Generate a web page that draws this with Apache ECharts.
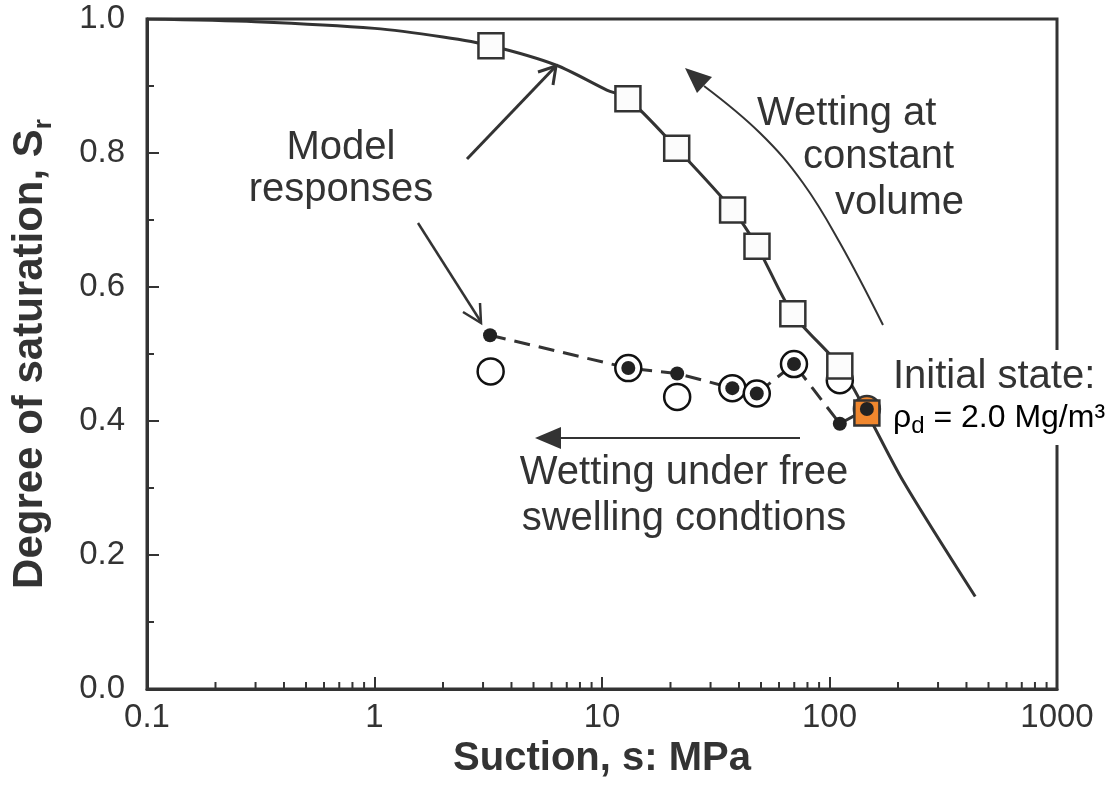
<!DOCTYPE html>
<html style="height: 100%">
<head>
    <meta charset="utf-8">
</head>
<body style="height: 100%; margin: 0; background: #fff">
<div id="container" style="width: 1114px; height: 785px"></div>
<script type="text/javascript" src="https://cdn.jsdelivr.net/npm/echarts@6/dist/echarts.min.js"></script>
<script type="text/javascript">
// axis ticks
var xTicks = [0.1, 1, 10, 100, 1000];
var yTicks = [0, 0.2, 0.4, 0.6, 0.8, 1.0];

// model response, wetting at constant volume (solid curve)
var cvModelS  = [0.1, 0.3, 1, 2, 3.25, 6.3, 10.5, 13, 21.3, 37.5, 48, 69, 111, 146, 211, 437];
var cvModelSr = [1.0, 0.996, 0.986, 0.973, 0.96, 0.931, 0.894, 0.881, 0.807, 0.715, 0.661, 0.56, 0.482, 0.412, 0.31, 0.138];

// tests at constant volume (open squares)
var cvTestS  = [3.25, 13, 21.3, 37.5, 48, 69, 111];
var cvTestSr = [0.96, 0.881, 0.807, 0.715, 0.661, 0.56, 0.482];

// tests under free swelling (open circles)
var fsTestS  = [3.24, 13.05, 21.4, 37.4, 47.9, 69.8, 111];
var fsTestSr = [0.474, 0.479, 0.436, 0.449, 0.441, 0.485, 0.461];

// model response, free swelling (dots + dashed line)
var fsModelS  = [3.22, 13.05, 21.4, 37.4, 47.9, 69.8, 111, 146];
var fsModelSr = [0.528, 0.479, 0.471, 0.449, 0.441, 0.485, 0.396, 0.418];

// initial state
var initS = [146];
var initSrSquare = [0.412];
var initSrCircle = [0.418];

var ink = '#333';
var orange = '#f0872e';
var font40 = '40px "Liberation Sans", Arial, sans-serif';

function zip(xs, ys) {
    var res = [];
    for (var i = 0; i < xs.length; i++) res.push([xs[i], ys[i]]);
    return res;
}

// minor ticks for the log axis (2..9 in each decade)
var minorX = [];
for (var i = 0; i < xTicks.length - 1; i++) {
    for (var k = 2; k <= 9; k++) minorX.push(xTicks[i] * k);
}

var dom = document.getElementById('container');
var myChart = echarts.init(dom, null, {renderer: 'canvas'});

var option = {
    animation: false,
    backgroundColor: '#fff',
    textStyle: {fontFamily: 'Liberation Sans, Arial, sans-serif'},
    grid: {
        left: 147, right: 57, top: 19, bottom: 96,
        show: true, borderColor: ink, borderWidth: 3, backgroundColor: 'transparent'
    },
    xAxis: {
        type: 'log',
        logBase: 10,
        min: xTicks[0],
        max: xTicks[xTicks.length - 1],
        name: 'Suction, s: MPa',
        nameLocation: 'middle',
        nameGap: 47,
        nameTextStyle: {fontSize: 40, fontWeight: 'bold', color: ink},
        axisLine: {lineStyle: {color: ink, width: 3}},
        axisTick: {inside: true, length: 12, lineStyle: {color: ink, width: 2}},
        axisLabel: {
            fontSize: 33, color: ink, margin: 12,
            formatter: function (v) { return v < 1 ? v.toFixed(1) : String(Math.round(v)); }
        },
        splitLine: {show: false}
    },
    yAxis: {
        type: 'value',
        min: yTicks[0],
        max: yTicks[yTicks.length - 1],
        interval: 0.2,
        name: '{a|Degree of saturation, S}{b|r}',
        nameLocation: 'middle',
        nameGap: 90,
        nameTextStyle: {
            color: ink,
            rich: {
                a: {fontSize: 42, fontWeight: 'bold', color: ink, lineHeight: 54},
                b: {fontSize: 26, fontWeight: 'bold', color: ink, lineHeight: 20, verticalAlign: 'bottom'}
            }
        },
        axisLine: {lineStyle: {color: ink, width: 3}},
        axisTick: {inside: true, length: 12, lineStyle: {color: ink, width: 2}},
        minorTick: {show: true, splitNumber: 2, length: 7, lineStyle: {color: ink, width: 2}},
        axisLabel: {
            fontSize: 33, color: ink, margin: 22,
            formatter: function (v) { return v.toFixed(1); }
        },
        splitLine: {show: false}
    },
    series: [
        {
            name: 'minor ticks',
            type: 'custom',
            silent: true,
            z: 10,
            data: minorX.map(function (v) { return [v, 0]; }),
            renderItem: function (params, api) {
                var p = api.coord([api.value(0), api.value(1)]);
                return {
                    type: 'line',
                    shape: {x1: p[0], y1: p[1], x2: p[0], y2: p[1] - 7},
                    style: {stroke: ink, lineWidth: 2}
                };
            }
        },
        {
            name: 'Model, constant volume',
            type: 'line',
            data: zip(cvModelS, cvModelSr),
            showSymbol: false,
            smooth: 0.3,
            lineStyle: {color: ink, width: 3},
            z: 2
        },
        {
            name: 'Model, free swelling',
            type: 'line',
            data: zip(fsModelS, fsModelSr),
            showSymbol: false,
            lineStyle: {color: ink, width: 3, type: [16, 9]},
            z: 2
        },
        {
            name: 'Test, free swelling',
            type: 'scatter',
            data: zip(fsTestS, fsTestSr),
            symbol: 'circle',
            symbolSize: 26,
            itemStyle: {color: '#fff', borderColor: '#111', borderWidth: 2.5, opacity: 1},
            z: 3
        },
        {
            name: 'Initial circle',
            type: 'scatter',
            data: zip(initS, initSrCircle),
            symbol: 'circle',
            symbolSize: 26,
            itemStyle: {color: orange, borderColor: ink, borderWidth: 2.5, opacity: 1},
            z: 3
        },
        {
            name: 'Test, constant volume',
            type: 'scatter',
            data: zip(cvTestS, cvTestSr),
            symbol: 'rect',
            symbolSize: 25,
            itemStyle: {color: '#fcfcfc', borderColor: ink, borderWidth: 2.5, opacity: 1},
            z: 4
        },
        {
            name: 'Initial square',
            type: 'scatter',
            data: zip(initS, initSrSquare),
            symbol: 'rect',
            symbolSize: 25,
            itemStyle: {color: orange, borderColor: ink, borderWidth: 2.5, opacity: 1},
            z: 4
        },
        {
            name: 'Model points',
            type: 'scatter',
            data: zip(fsModelS, fsModelSr),
            symbol: 'circle',
            symbolSize: 14,
            itemStyle: {color: '#222', opacity: 1},
            z: 5
        }
    ],
    graphic: [
        // white box behind the initial state note
        {type: 'rect', z: 100, shape: {x: 886, y: 350, width: 228, height: 95}, style: {fill: '#fff'}},
        {type: 'text', z: 101, x: 893, y: 377, style: {text: 'Initial state:', font: font40, fill: ink, verticalAlign: 'middle'}},
        {type: 'text', z: 101, x: 893, y: 418, style: {
            text: '{r|ρ}{d|d}{r| = 2.0 Mg/m³}',
            verticalAlign: 'middle',
            rich: {
                r: {fontSize: 32, fontFamily: 'Liberation Sans', color: ink, lineHeight: 40},
                d: {fontSize: 24, fontFamily: 'Liberation Sans', color: ink, lineHeight: 14, verticalAlign: 'bottom'}
            }
        }},
        // model responses note
        {type: 'text', z: 50, x: 341, y: 148, style: {text: 'Model', font: font40, fill: ink, align: 'center', verticalAlign: 'middle'}},
        {type: 'text', z: 50, x: 341, y: 190, style: {text: 'responses', font: font40, fill: ink, align: 'center', verticalAlign: 'middle'}},
        {type: 'line', z: 50, shape: {x1: 467, y1: 159, x2: 556, y2: 66}, style: {stroke: ink, lineWidth: 3}},
        {type: 'polyline', z: 50, shape: {points: [[538, 72], [556, 66], [553, 85]]}, style: {stroke: ink, lineWidth: 3, fill: null}},
        {type: 'line', z: 50, shape: {x1: 418, y1: 223, x2: 481, y2: 322}, style: {stroke: ink, lineWidth: 2.5}},
        {type: 'polyline', z: 50, shape: {points: [[463, 312], [481, 323], [480, 303]]}, style: {stroke: ink, lineWidth: 2.5, fill: null}},
        // wetting at constant volume note
        {type: 'text', z: 50, x: 757, y: 114, style: {text: 'Wetting at', font: font40, fill: ink, verticalAlign: 'middle'}},
        {type: 'text', z: 50, x: 803, y: 157, style: {text: 'constant', font: font40, fill: ink, verticalAlign: 'middle'}},
        {type: 'text', z: 50, x: 835, y: 203, style: {text: 'volume', font: font40, fill: ink, verticalAlign: 'middle'}},
        {type: 'polyline', z: 50, shape: {points: [[883, 325], [840, 243], [803, 183], [760, 133], [704, 86]], smooth: 0.4}, style: {stroke: ink, lineWidth: 2, fill: null}},
        {type: 'polygon', z: 50, shape: {points: [[685, 68], [712, 77], [697, 93]]}, style: {fill: ink}},
        // wetting under free swelling note
        {type: 'line', z: 50, shape: {x1: 800, y1: 438, x2: 556, y2: 438}, style: {stroke: ink, lineWidth: 2}},
        {type: 'polygon', z: 50, shape: {points: [[535, 438], [561, 427], [561, 449]]}, style: {fill: ink}},
        {type: 'text', z: 50, x: 684, y: 473, style: {text: 'Wetting under free', font: font40, fill: ink, align: 'center', verticalAlign: 'middle'}},
        {type: 'text', z: 50, x: 684, y: 519, style: {text: 'swelling condtions', font: font40, fill: ink, align: 'center', verticalAlign: 'middle'}}
    ]
};

if (option && typeof option === 'object') {
    myChart.setOption(option, true);
}
</script>
</body>
</html>
